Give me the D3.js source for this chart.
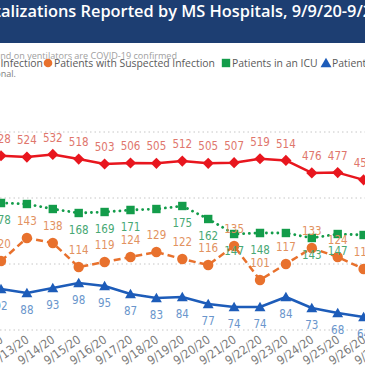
<!DOCTYPE html>
<html><head><meta charset="utf-8">
<script src="https://cdn.jsdelivr.net/npm/d3@7/dist/d3.min.js"></script>
<style>html,body{margin:0;padding:0;background:#fff;overflow:hidden}</style>
</head><body><svg id="c" width="365" height="365"></svg>
<script>
// ---- data ----
const dates = ["9/12/20","9/13/20","9/14/20","9/15/20","9/16/20","9/17/20","9/18/20","9/19/20","9/20/20","9/21/20","9/22/20","9/23/20","9/24/20","9/25/20","9/26/20","9/27/20"];
const confirmed = [528,524,532,518,503,506,505,512,505,507,519,514,476,477,455];
const suspected = [120,143,138,114,119,124,129,122,116,135,101,117,133,124,112];
const icu       = [178,177,172,168,169,171,172,175,162,147,148,148,143,147,146];
const vent      = [92,88,93,98,95,87,83,84,77,74,74,84,73,68,64];
const gridTicks = [0,200,400,600];
const legendLabels = ["Patients with Confirmed Infection","Patients with Suspected Infection","Patients in an ICU","Patients on Ventilators"];
const titleText = "COVID-19 Hospitalizations Reported by MS Hospitals, 9/9/20-9/26/20";
const noteText = "All patients in the ICU and on ventilators are COVID-19 confirmed";
const noteText2 = "Data are provisional.";

// ---- setup ----
const svg = d3.select("#c");
const W = 365, H = 365;
const labelFont = "'Liberation Sans Narrow','DejaVu Sans Condensed','Roboto',sans-serif";
const uiFont = "'Open Sans','Noto Sans',sans-serif";

function measure(txt, family, size, weight) {
  const t = svg.append("text").attr("font-family", family).attr("font-size", size)
    .attr("font-weight", weight || "normal").text(txt);
  const w = t.node().getComputedTextLength(); t.remove(); return w;
}

// title bar
svg.append("rect").attr("x",0).attr("y",0).attr("width",W).attr("height",43).attr("fill","#1d3e72");
const visTitle = "alizations Reported by MS Hospitals, 9/9/20-9/";
const tSize = 20 * 362 / measure(visTitle, uiFont, 20, 600);
const pre = measure("COVID-19 Hospit", uiFont, tSize, 600);
svg.append("text").attr("x", 1 - pre).attr("y", 17).attr("font-family", uiFont)
  .attr("font-weight", 600).attr("font-size", tSize).attr("fill", "#fff").text(titleText);

// note line
const nSize = 10 * 177 / measure("nd on ventilators are COVID-19 confirmed", uiFont, 10);
svg.append("text").attr("x", 177).attr("y", 59).attr("text-anchor","end")
  .attr("font-family", uiFont).attr("font-size", nSize).attr("fill", "#a0a0a0").text(noteText);
svg.append("text").attr("x", 16).attr("y", 77).attr("text-anchor","end")
  .attr("font-family", uiFont).attr("font-size", nSize).attr("fill", "#808080").text(noteText2);

// scales
const x = d3.scalePoint().domain(dates).range([1, 1 + 25.9 * (dates.length - 1)]);
const yL = d3.scaleLinear().domain([0, 600]).range([330, 132]);
const yR = d3.scaleLinear().domain([50, 250]).range([331, 131]);

// gridlines
svg.append("g").selectAll("line").data(gridTicks).join("line")
  .attr("x1", 0).attr("x2", W).attr("y1", d => yL(d)).attr("y2", d => yL(d))
  .attr("stroke", "#c6c6c6").attr("stroke-width", 1).attr("stroke-dasharray", "1.5,3");

// x axis
const xAxis = d3.axisBottom(x).tickSize(0).tickPadding(0);
const gx = svg.append("g").attr("transform", "translate(0,338)").call(xAxis);
gx.select(".domain").remove();
gx.selectAll("text").attr("font-family", labelFont).attr("font-size", 12).attr("fill", "#7a7a7a")
  .attr("text-anchor", "end").attr("dy", "0.35em").attr("transform", "rotate(-35)");

// series defs
const series = [
  {vals: confirmed, y: yL, color: "#e8161e", lab: "#e0766c", dash: null, shape: "diamond", pos: "above"},
  {vals: suspected, y: yR, color: "#e8712d", lab: "#e2925f", dash: "7,4", shape: "circle", pos: "above"},
  {vals: icu, y: yR, color: "#139c4a", lab: "#48a874", dash: "0.1,5.6", shape: "square", pos: "below"},
  {vals: vent, y: yR, color: "#1d5cb9", lab: "#6a96cc", dash: null, shape: "triangle", pos: "below"}
];

function markerPath(shape, cx, cy) {
  if (shape === "diamond") { const r = 5.6; return `M${cx},${cy-r}L${cx+r},${cy}L${cx},${cy+r}L${cx-r},${cy}Z`; }
  if (shape === "square") { const r = 4.2; return `M${cx-r},${cy-r}h${2*r}v${2*r}h${-2*r}Z`; }
  if (shape === "triangle") { const r = 5.2; return `M${cx},${cy-r}L${cx+r*1.05},${cy+r*0.8}L${cx-r*1.05},${cy+r*0.8}Z`; }
  return null;
}

const gLines = svg.append("g"), gMarks = svg.append("g"), gLabs = svg.append("g");
// draw order: ICU, suspected, vent, confirmed
[2,1,3,0].forEach(i => {
  const s = series[i];
  const line = d3.line().x((d, j) => x(dates[j])).y(d => s.y(d));
  const p = gLines.append("path").attr("d", line(s.vals)).attr("fill", "none")
    .attr("stroke", s.color).attr("stroke-width", s.shape === "square" ? 2.8 : 2.5)
    .attr("stroke-linejoin", "round");
  if (s.dash) p.attr("stroke-dasharray", s.dash);
  if (s.shape === "square") p.attr("stroke-linecap", "round");
  s.vals.forEach((v, j) => {
    const cx = x(dates[j]), cy = s.y(v);
    if (s.shape === "circle") gMarks.append("circle").attr("cx", cx).attr("cy", cy).attr("r", 5.2).attr("fill", s.color);
    else gMarks.append("path").attr("d", markerPath(s.shape, cx, cy)).attr("fill", s.color);
  });
});

// labels
const labY = (s, v) => s.pos === "above" ? s.y(v) - 17 : s.y(v) + 17;
series.forEach((s, i) => {
  s.vals.forEach((v, j) => {
    const ly = labY(s, v);
    if (i === 2) { // ICU labels hidden when colliding with suspected labels
      const oy = labY(series[1], series[1].vals[j]);
      if (Math.abs(oy - ly) < 10.5) return;
    }
    gLabs.append("text").attr("x", x(dates[j])).attr("y", ly).attr("dy", "0.36em")
      .attr("text-anchor", "middle").attr("font-family", labelFont).attr("font-size", 11.5)
      .attr("fill", s.lab).text(v);
  });
});

// legend
const lgSize = 10 * 161 / measure(legendLabels[1], uiFont, 10);
const markX = [null, 48, 226, 326];
const lgY = 63;
const w0 = measure(legendLabels[0], uiFont, lgSize);
markX[0] = 43 - w0 - 6;
const gL = svg.append("g");
legendLabels.forEach((t, i) => {
  const s = series[i], mx = markX[i];
  if (s.shape === "circle") gL.append("circle").attr("cx", mx).attr("cy", lgY).attr("r", 4.3).attr("fill", s.color);
  else gL.append("path").attr("d", markerPath(s.shape, mx, lgY)).attr("fill", s.color);
  gL.append("text").attr("x", mx + 6).attr("y", lgY).attr("dy", "0.35em")
    .attr("font-family", uiFont).attr("font-size", lgSize).attr("fill", "#5a5a5a").text(t);
});
</script></body></html>
